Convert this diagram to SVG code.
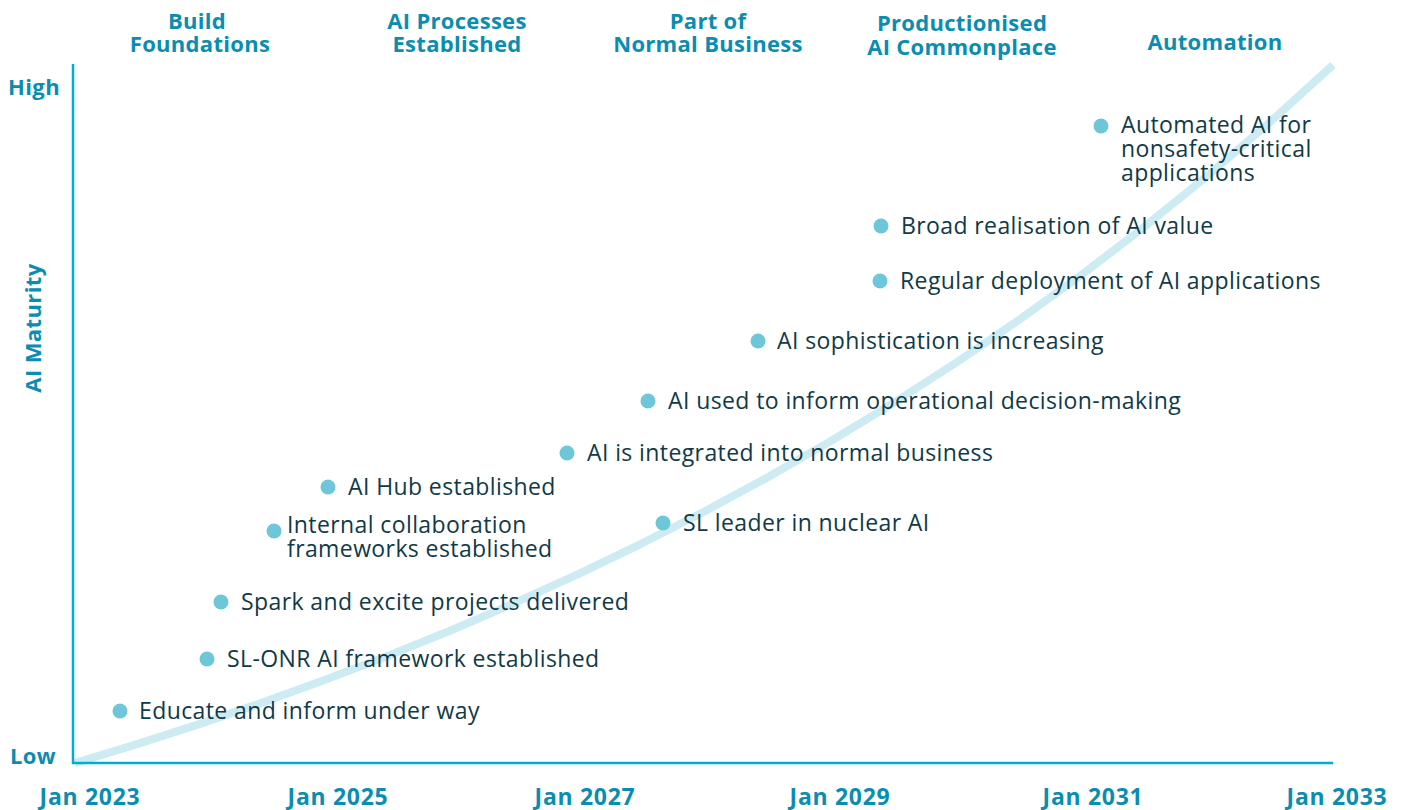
<svg xmlns="http://www.w3.org/2000/svg" width="1406" height="810" viewBox="0 0 1406 810">
<style>
.hd{font-family:"Open Sans",Lato,sans-serif;font-weight:bold;font-size:22px;letter-spacing:0.3px;fill:#0a8db0;text-anchor:middle}
.dt{font-family:"Open Sans",Lato,sans-serif;font-weight:bold;font-size:23px;letter-spacing:0.7px;fill:#0a8db0;text-anchor:middle}
.ax{font-family:"Open Sans",Lato,sans-serif;font-weight:bold;font-size:22px;letter-spacing:0.4px;fill:#0a8db0}
.lb{font-family:"Open Sans",Lato,sans-serif;font-size:23px;letter-spacing:0.4px;fill:#0f3a47}
.dot{fill:#6ec6d9}
.axis{stroke:#00aecf;stroke-width:2.5;fill:none}
.curve{stroke:#cdebf3;stroke-width:8;fill:none;stroke-linejoin:round}
</style>
<rect width="1406" height="810" fill="#fff"/>
<g id="phases">
<text class="hd" x="197" y="29"><tspan x="197" y="29">Build</tspan><tspan x="200" y="52">Foundations</tspan></text>
<text class="hd" x="457" y="29"><tspan x="457" y="29">AI Processes</tspan><tspan x="457" y="52">Established</tspan></text>
<text class="hd" x="708" y="29"><tspan x="708" y="29">Part of</tspan><tspan x="708" y="52">Normal Business</tspan></text>
<text class="hd" x="962" y="31"><tspan x="962" y="31">Productionised</tspan><tspan x="962" y="55">AI Commonplace</tspan></text>
<text class="hd" x="1215" y="50">Automation</text>
</g>
<g id="connectors">
<polyline class="curve" points="75,763 137.9,743.9 200.8,723.6 263.7,702.1 326.6,679.3 389.5,655.3 452.4,629.8 515.3,602.7 578.2,574.1 641.1,543.8 704,511.7 766.9,477.7 829.8,441.6 892.7,403.5 955.6,363 1018.5,320.2 1081.4,275 1144.3,226.9 1207.2,176 1270.1,122.1 1333,65"/>
</g>
<g id="axes">
<path class="axis" d="M73,64 V763 H1333"/>
<text class="ax" x="8" y="95">High</text>
<text class="ax" x="10" y="764">Low</text>
<text class="ax" x="0" y="0" text-anchor="middle" transform="translate(41,328) rotate(-90)">AI Maturity</text>
<text class="dt" x="90" y="805">Jan 2023</text>
<text class="dt" x="338" y="805">Jan 2025</text>
<text class="dt" x="585" y="805">Jan 2027</text>
<text class="dt" x="840" y="805">Jan 2029</text>
<text class="dt" x="1093" y="805">Jan 2031</text>
<text class="dt" x="1337" y="805">Jan 2033</text>
</g>
<g id="m1"><circle class="dot" cx="120" cy="711" r="7.5"/><text class="lb" x="139" y="719">Educate and inform under way</text></g>
<g id="m2"><circle class="dot" cx="207" cy="659" r="7.5"/><text class="lb" x="227" y="667">SL-ONR AI framework established</text></g>
<g id="m3"><circle class="dot" cx="221" cy="602" r="7.5"/><text class="lb" x="241" y="610">Spark and excite projects delivered</text></g>
<g id="m4"><circle class="dot" cx="274" cy="531" r="7.5"/><text class="lb" x="287" y="533"><tspan x="287" y="533">Internal collaboration</tspan><tspan x="287" y="557">frameworks established</tspan></text></g>
<g id="m5"><circle class="dot" cx="328" cy="487" r="7.5"/><text class="lb" x="348" y="495">AI Hub established</text></g>
<g id="m6"><circle class="dot" cx="567" cy="453" r="7.5"/><text class="lb" x="587" y="461">AI is integrated into normal business</text></g>
<g id="m7"><circle class="dot" cx="663" cy="523" r="7.5"/><text class="lb" x="683" y="531">SL leader in nuclear AI</text></g>
<g id="m8"><circle class="dot" cx="648" cy="401" r="7.5"/><text class="lb" x="668" y="409">AI used to inform operational decision-making</text></g>
<g id="m9"><circle class="dot" cx="758" cy="341" r="7.5"/><text class="lb" x="777" y="349">AI sophistication is increasing</text></g>
<g id="m10"><circle class="dot" cx="880" cy="281" r="7.5"/><text class="lb" x="900" y="289">Regular deployment of AI applications</text></g>
<g id="m11"><circle class="dot" cx="881" cy="226" r="7.5"/><text class="lb" x="901" y="234">Broad realisation of AI value</text></g>
<g id="m12"><circle class="dot" cx="1101" cy="126" r="7.5"/><text class="lb" x="1121" y="133"><tspan x="1121" y="133">Automated AI for</tspan><tspan x="1121" y="157">nonsafety-critical</tspan><tspan x="1121" y="181">applications</tspan></text></g>
</svg>
